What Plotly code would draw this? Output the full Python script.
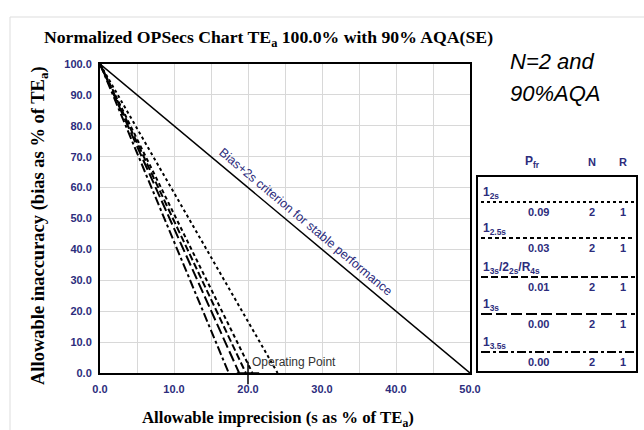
import plotly.graph_objects as go

# ---- chart data -------------------------------------------------------
rule_labels = ["1<sub>2s</sub>", "1<sub>2.5s</sub>",
               "1<sub>3s</sub>/2<sub>2s</sub>/R<sub>4s</sub>",
               "1<sub>3s</sub>", "1<sub>3.5s</sub>"]
s_intercept = [24.0, 20.6, 19.7, 18.8, 17.4]   # imprecision where bias reaches 0
pfr_values = ["0.09", "0.03", "0.01", "0.00", "0.00"]
n_values = ["2", "2", "2", "2", "2"]
r_values = ["1", "1", "1", "1", "1"]
rule_dash = ["dot", "4px,3px", "7px,3px", "11px,4px", "dashdot"]

bias_start = 100.0          # TEa (%)
bias_2s_limit = 50.0        # s where bias + 2s = TEa
op_point = (20.0, 0.0)      # operating point (s, bias)

x_ticks = [0, 10, 20, 30, 40, 50]
y_ticks = [0, 10, 20, 30, 40, 50, 60, 70, 80, 90, 100]

# ---- geometry ---------------------------------------------------------
W, H = 644, 430
L, R, T, B = 100, 470, 64, 373   # plot area in pixels


def px(xp):
    return (xp - L) / (R - L)


def py(yp):
    return (B - yp) / (B - T)


NAVY = "#2c2c7c"
SANS = "Liberation Sans"
SERIF = "Liberation Serif"

fig = go.Figure()

# OPSpecs lines, one per QC rule
for lab, s0, dsh in zip(rule_labels, s_intercept, rule_dash):
    fig.add_trace(go.Scatter(x=[0, s0], y=[bias_start, 0], mode="lines",
                             line=dict(color="black", width=2, dash=dsh),
                             showlegend=False, hoverinfo="skip"))

# bias + 2s criterion
fig.add_trace(go.Scatter(x=[0, bias_2s_limit], y=[bias_start, 0], mode="lines",
                         line=dict(color="black", width=1.5),
                         showlegend=False, hoverinfo="skip"))

# operating point
fig.add_trace(go.Scatter(x=[op_point[0]], y=[op_point[1]], mode="markers",
                         marker=dict(symbol="cross-thin", size=16,
                                     line=dict(color="black", width=1.5)),
                         cliponaxis=False, showlegend=False, hoverinfo="skip"))

annotations = []
shapes = []


def note(x, y, text, font, xanchor="center", yanchor="middle", ref="paper", **kw):
    annotations.append(dict(x=x, y=y, xref=ref, yref=ref, text=text,
                            showarrow=False, xanchor=xanchor, yanchor=yanchor,
                            font=font, **kw))


note(op_point[0] + 0.25, op_point[1] + 3.6, "Operating Point",
     dict(family=SANS, size=12, color="#333333"), xanchor="left", ref="x")
annotations[-1]["yref"] = "y"

note(27.8, 48.9, "Bias+2s criterion for stable performance",
     dict(family=SANS, size=12.5, color=NAVY), ref="x", textangle=40)
annotations[-1]["yref"] = "y"

# titles
note(px(268), py(39), "Normalized OPSecs Chart TE<sub>a</sub> 100.0% with 90% AQA(SE)",
     dict(family=SERIF, size=17.7, color="black", weight="bold"))
note(px(278), py(419), "Allowable imprecision (s as % of TE<sub>a</sub>)",
     dict(family=SERIF, size=16.8, color="black", weight="bold"))
note(px(39), py(226), "Allowable inaccuracy (bias as % of TE<sub>a</sub>)",
     dict(family=SERIF, size=18.5, color="black", weight="bold"), textangle=-90)
big = dict(family=SANS, size=22, color="black")
note(px(508), py(61), "<i>N=2 and</i>", big, xanchor="left")
note(px(508), py(93), "<i>90%AQA</i>", big, xanchor="left")

# legend panel
leg_font = dict(family=SANS, size=11, color=NAVY, weight="bold")
lab_font = dict(family=SANS, size=12, color=NAVY, weight="bold")
note(px(532), py(162), "P<sub>fr</sub>", lab_font)
note(px(592), py(162), "N", leg_font)
note(px(623), py(162), "R", leg_font)

shapes.append(dict(type="rect", xref="paper", yref="paper",
                   x0=px(477), x1=px(637), y0=py(176), y1=py(372),
                   line=dict(color="black", width=2)))

row_line_y = [202, 238, 277, 314, 352]
for i, lab in enumerate(rule_labels):
    ly = row_line_y[i]
    note(px(481), py(ly - 9), lab, lab_font, xanchor="left")
    shapes.append(dict(type="line", xref="paper", yref="paper",
                       x0=px(481), x1=px(635), y0=py(ly), y1=py(ly),
                       line=dict(color="black", width=2, dash=rule_dash[i])))
    for xv, txt in zip([538, 592, 623], [pfr_values[i], n_values[i], r_values[i]]):
        note(px(xv), py(ly + 10), txt, leg_font)

# faint frame around the whole graphic
shapes.append(dict(type="line", xref="paper", yref="paper",
                   x0=px(10), x1=px(644), y0=py(17), y1=py(17),
                   line=dict(color="#dddddd", width=1)))
shapes.append(dict(type="line", xref="paper", yref="paper",
                   x0=px(10), x1=px(10), y0=py(17), y1=py(430),
                   line=dict(color="#dddddd", width=1)))

tick_font = dict(family=SANS, size=11, color=NAVY, weight="bold")

fig.update_layout(
    width=W, height=H,
    margin=dict(l=L, r=W - R, t=T, b=H - B, pad=0),
    paper_bgcolor="white", plot_bgcolor="white",
    annotations=annotations, shapes=shapes,
    xaxis=dict(range=[0, 50], tickvals=x_ticks,
               ticktext=[f"{v:.1f}" for v in x_ticks],
               showgrid=True, gridcolor="#d8d8d8", gridwidth=1,
               minor=dict(dtick=5, tick0=0, showgrid=True, gridcolor="#d8d8d8"),
               showline=True, linecolor="black", linewidth=2, mirror=True,
               ticks="", tickfont=tick_font, zeroline=False,
               ticklabelstandoff=5),
    yaxis=dict(range=[0, 100], tickvals=y_ticks,
               ticktext=[f"{v:.1f}" for v in y_ticks],
               showgrid=True, gridcolor="#d8d8d8", gridwidth=1,
               showline=True, linecolor="black", linewidth=2, mirror=True,
               ticks="", tickfont=tick_font, zeroline=False,
               ticklabelstandoff=4),
)

fig.write_html("out.html")
